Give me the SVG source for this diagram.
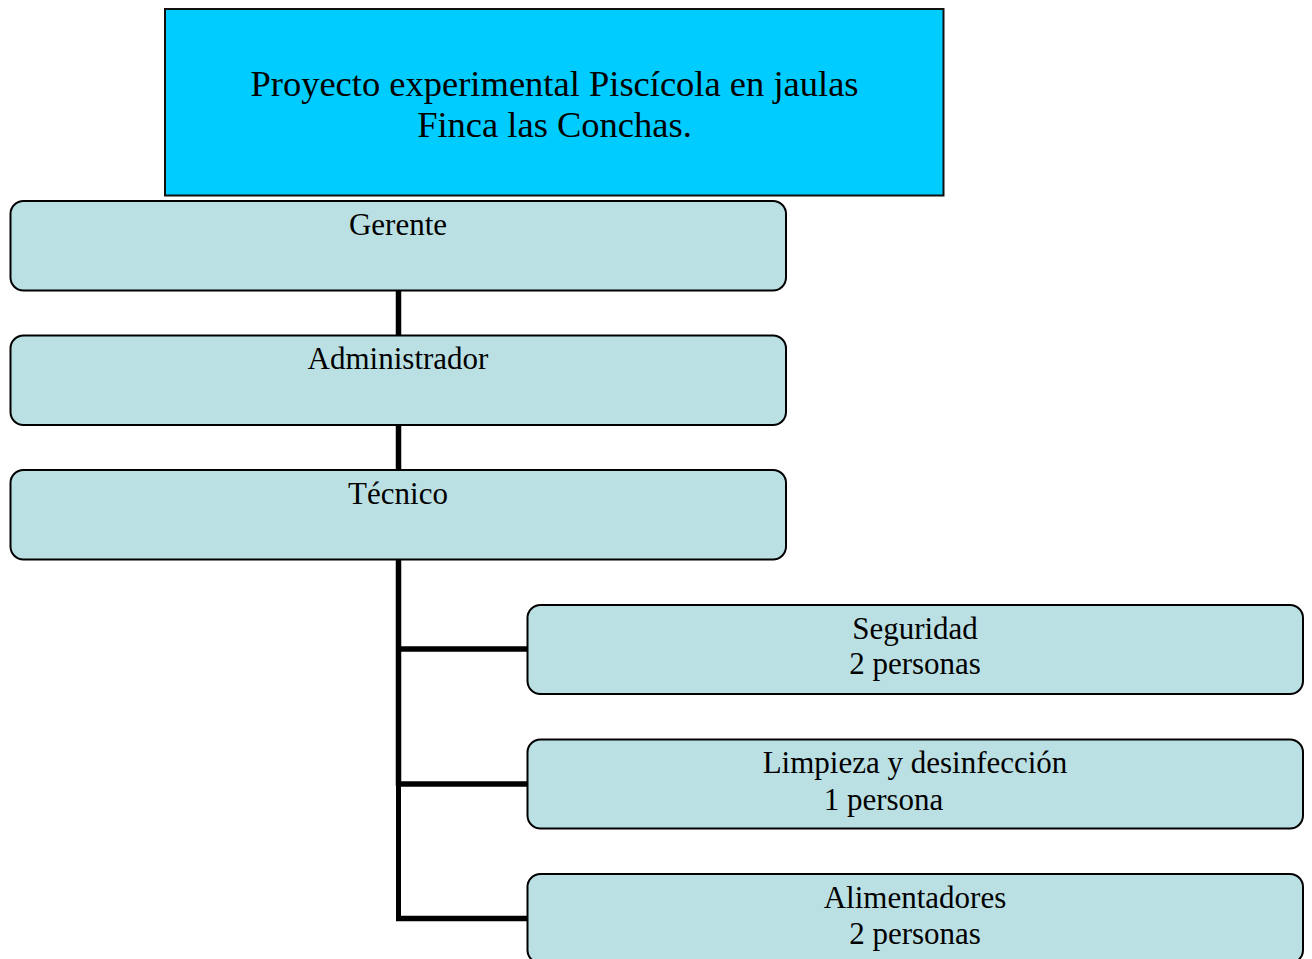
<svg xmlns="http://www.w3.org/2000/svg" width="1312" height="959" viewBox="0 0 1312 959">
<style>
  .title { fill: #00CCFF; stroke: #111; stroke-width: 2; }
  .node { fill: #BBE0E3; stroke: #000; stroke-width: 2; }
  text { font-family: "Liberation Serif", "Times New Roman", serif; fill: #000; text-anchor: middle; }
  .t1 { font-size: 36.5px; }
  .t2 { font-size: 31px; }
  .conn { stroke: #000; stroke-width: 5.5; fill: none; }
</style>
<rect width="1312" height="959" fill="#fff"/>
<g id="connectors">
  <line class="conn" x1="398.5" y1="290" x2="398.5" y2="336"/>
  <line class="conn" x1="398.5" y1="425" x2="398.5" y2="471"/>
  <line class="conn" x1="398.5" y1="559" x2="398.5" y2="786"/>
  <line class="conn" x1="398.5" y1="784" x2="398.5" y2="921" style="stroke-width:5"/>
  <line class="conn" x1="396" y1="649" x2="528" y2="649"/>
  <line class="conn" x1="396" y1="784" x2="528" y2="784"/>
  <line class="conn" x1="396" y1="918.5" x2="528" y2="918.5"/>
</g>
<g id="title">
  <rect class="title" x="165" y="9" width="778.5" height="186.5"/>
  <text class="t1" x="554.5" y="96">Proyecto experimental Piscícola en jaulas</text>
  <text class="t1" x="554.5" y="137">Finca las Conchas.</text>
</g>
<g id="gerente">
  <rect class="node" x="10.5" y="201" width="775.5" height="89.5" rx="13"/>
  <text class="t2" x="398" y="235">Gerente</text>
</g>
<g id="administrador">
  <rect class="node" x="10.5" y="335.5" width="775.5" height="89.5" rx="13"/>
  <text class="t2" x="398" y="369">Administrador</text>
</g>
<g id="tecnico">
  <rect class="node" x="10.5" y="470" width="775.5" height="89.5" rx="13"/>
  <text class="t2" x="398" y="504">Técnico</text>
</g>
<g id="seguridad">
  <rect class="node" x="527.5" y="605" width="775.5" height="89" rx="13"/>
  <text class="t2" x="915" y="639">Seguridad</text>
  <text class="t2" x="915" y="674">2 personas</text>
</g>
<g id="limpieza">
  <rect class="node" x="527.5" y="739.5" width="775.5" height="89" rx="13"/>
  <text class="t2" x="915" y="773">Limpieza y desinfección</text>
  <text class="t2" x="883.5" y="810">1 persona</text>
</g>
<g id="alimentadores">
  <rect class="node" x="527.5" y="874" width="775.5" height="89" rx="13"/>
  <text class="t2" x="915" y="908">Alimentadores</text>
  <text class="t2" x="915" y="944">2 personas</text>
</g>
</svg>
